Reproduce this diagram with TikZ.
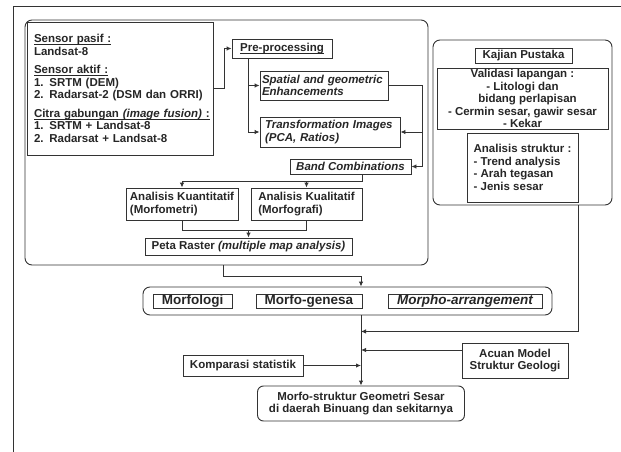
\documentclass[tikz,border=0pt]{standalone}
\usepackage{fontspec}
\setmainfont{Liberation Sans}
\usetikzlibrary{positioning,arrows.meta,calc}
\newsavebox{\ulbox}
\newcommand{\uln}[1]{\leavevmode\sbox{\ulbox}{#1}\rlap{\rule[-2pt]{\wd\ulbox}{0.6pt}}\usebox{\ulbox}}

\begin{document}
\begin{tikzpicture}[
  x=1pt, y=-1pt,
  every node/.style={font=\bfseries\fontsize{11.5}{12.5}\selectfont, text=black!85, inner sep=0pt},
  box/.style={draw=black!80, line width=0.9pt, align=center},
  itbox/.style={box, font=\bfseries\itshape\fontsize{11.5}{12.5}\selectfont},
  grp/.style={draw=black!80, line width=0.9pt, rounded corners=7pt},
  big/.style={font=\bfseries\fontsize{13.5}{15}\selectfont},
  bigit/.style={font=\bfseries\itshape\fontsize{13.5}{15}\selectfont},
  ln/.style={draw=black!80, line width=0.9pt},
  arr/.style={draw=black!80, line width=0.9pt, -{Latex[length=5pt,width=4.5pt]}}
]
  \useasboundingbox (0,0) rectangle (621,452);
  \draw[line width=0.9pt, black!80] (13,452) -- (13,6) -- (621,6);

  % data and image processing
  \node[grp, minimum width=403pt, minimum height=245pt] (lgrp) at (226.5,142.5) {};
  \node[box, minimum width=186pt, minimum height=133pt, text width=172pt, align=left] (sensor) at (120,88.5)
    {\uln{Sensor pasif :}\\
     Landsat-8\\[6pt]
     \uln{Sensor aktif :}\\
     1. SRTM (DEM)\\
     2. Radarsat-2 (DSM dan ORRI)\\[6pt]
     \uln{Citra gabungan \textit{(image fusion)} :}\\
     1. SRTM + Landsat-8\\
     2. Radarsat + Landsat-8};
  \node[box, minimum width=100pt, minimum height=19pt] (pre) at (282,48.5) {\uln{Pre-processing}};
  \node[itbox, minimum width=128pt, minimum height=29pt, text width=124pt, align=left] (spatial) at (324,85.5)
    {Spatial and geometric\\Enhancements};
  \node[itbox, minimum width=140pt, minimum height=30pt, text width=130pt, align=left] (trans) at (330,132)
    {Transformation Images\\(PCA, Ratios)};
  \node[itbox, minimum width=121pt, minimum height=15pt] (band) at (350.5,166.5) {Band Combinations};
  \node[box, minimum width=112pt, minimum height=32pt, align=left] (kuan) at (182,204)
    {Analisis Kuantitatif\\(Morfometri)};
  \node[box, minimum width=111pt, minimum height=32pt, align=left] (kual) at (306.5,204)
    {Analisis Kualitatif\\(Morfografi)};
  \node[box, minimum width=207pt, minimum height=17pt] (peta) at (248.5,246.5)
    {Peta Raster \textit{(multiple map analysis)}};

  % literature and field data
  \node[grp, minimum width=179pt, minimum height=165pt] (kgrp) at (522.5,122.5) {};
  \node[box, minimum width=97pt, minimum height=15pt] (kajian) at (523.5,55.5) {Kajian Pustaka};
  \node[box, minimum width=171pt, minimum height=61pt] (validasi) at (522.5,98.5)
    {Validasi lapangan :\\- Litologi dan\\\hspace*{10pt}bidang perlapisan\\- Cermin sesar, gawir sesar\\- Kekar};
  \node[box, minimum width=111pt, minimum height=69pt, align=left] (analisis) at (522.5,167.5)
    {Analisis struktur :\\- Trend analysis\\- Arah tegasan\\- Jenis sesar};

  % morphology
  \node[grp, minimum width=409pt, minimum height=28pt] (mgrp) at (347.5,301) {};
  \node[box, big, minimum width=79pt, minimum height=14pt] (morfologi) at (192.5,301) {Morfologi};
  \node[box, big, minimum width=106pt, minimum height=14pt] (genesa) at (309,301) {Morfo-genesa};
  \node[box, bigit, minimum width=154pt, minimum height=14pt] (arrange) at (465,301) {Morpho-arrangement};

  \node[box, minimum width=106pt, minimum height=35pt] (acuan) at (515,360.5) {Acuan Model\\Struktur Geologi};
  \node[box, minimum width=120pt, minimum height=21pt] (komp) at (243,365.5) {Komparasi statistik};
  \node[box, rounded corners=6pt, minimum width=207pt, minimum height=35pt] (hasil) at (361,403.5)
    {Morfo-struktur Geometri Sesar\\di daerah Binuang dan sekitarnya};

  \draw[arr] (sensor.east) -- ++(11,0) |- (pre.west);
  \draw[arr] ([xshift=-34pt]pre.south) |- (spatial.west);
  \draw[arr] ([xshift=-34pt]pre.south) |- (trans.west);
  \draw[arr] (spatial.east) -- ++(34,0) |- (band.east);
  \draw[arr] ($(spatial.east)+(34,0)$) |- (trans.east);
  \draw[arr] ([xshift=11.5pt]band.south) -- ++(0,7) -| (kuan.north);
  \draw[arr] ([xshift=11.5pt]band.south) -- ++(0,7) -| (kual.north);
  \draw[ln] (kuan.south) -- ++(0,10) -| (kual.south);
  \draw[arr] (kuan.south) ++(0,10) -| (peta.north);
  \draw[arr] ([xshift=-3.5pt]lgrp.south) -- ++(0,11) -| (hasil.north |- mgrp.north);
  \draw[arr] (hasil.north |- mgrp.south) -- (hasil.north);
  \draw[arr] (analisis.east |- kgrp.south) |- ($(hasil.north |- mgrp.south)+(0,16)$);
  \draw[arr] ([yshift=10.5pt]acuan.west) coordinate (acin) -- (acin -| hasil.north);
  \draw[arr] (komp.east) -- (komp.east -| hasil.north);
\end{tikzpicture}
\end{document}
